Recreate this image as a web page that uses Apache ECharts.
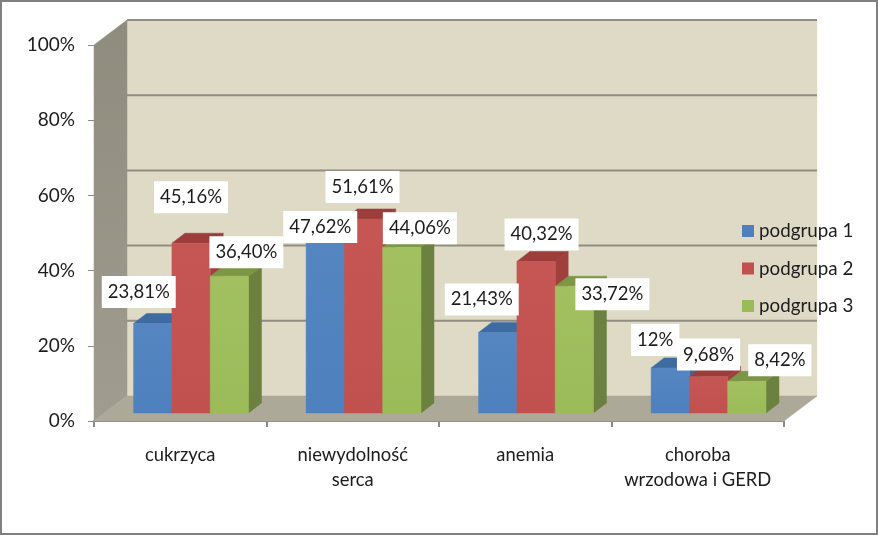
<!DOCTYPE html>
<html><head><meta charset="utf-8">
<style>html,body{margin:0;padding:0;background:#fff}#c{width:878px;height:535px}</style>
<script src="https://cdn.jsdelivr.net/npm/echarts@6/dist/echarts.min.js"></script>
</head><body><div id="c"></div>
<script>
const categories = ['cukrzyca', 'niewydolność\nserca', 'anemia', 'choroba\nwrzodowa i GERD'];
const seriesNames = ['podgrupa 1', 'podgrupa 2', 'podgrupa 3'];
const podgrupa1 = [23.81, 47.62, 21.43, 12];
const podgrupa2 = [45.16, 51.61, 40.32, 9.68];
const podgrupa3 = [36.40, 44.06, 33.72, 8.42];
const labels1 = ['23,81%', '47,62%', '21,43%', '12%'];
const labels2 = ['45,16%', '51,61%', '40,32%', '9,68%'];
const labels3 = ['36,40%', '44,06%', '33,72%', '8,42%'];
const yTicks = [20, 40, 60, 80, 100];

// layout / style only
const FONT = 'Lato, "Open Sans", sans-serif';
const WALL = {dx: 33, dy: -25};
const BAR = {w: 38.3, dx: 13, dy: -10, offX: 10.8, offY: -8};
const LABEL_OFFSETS = [
  [[-14, -31.5], [-5, -7], [-16, -33], [-15, -28]],
  [[0, -46], [-1, -32], [5.5, -27], [0, -22]],
  [[17, -24], [18, -19], [38, 8], [33, -21]]
];
const FACE = [
  {front: ['#5586C2', '#4D80BD'], top: '#3D6BA2', side: '#3F6896'},
  {front: ['#C55653', '#C0514E'], top: '#9C3D3B', side: '#A0403D'},
  {front: ['#A2C05F', '#9BBB59'], top: '#7C9646', side: '#6C8040'}
];
const values = [podgrupa1, podgrupa2, podgrupa3];
const texts = [labels1, labels2, labels3];

function poly(points, fill, stroke) {
  return {type: 'polygon', shape: {points}, style: {fill, stroke: stroke || fill, lineWidth: stroke ? 1 : 0.5}};
}

function renderWalls(params, api) {
  const cs = params.coordSys;
  const x0 = cs.x, x1 = cs.x + cs.width, yT = cs.y, yB = cs.y + cs.height;
  const d = WALL;
  const children = [
    poly([[x0 + d.dx, yT + d.dy], [x1 + d.dx, yT + d.dy], [x1 + d.dx, yB + d.dy], [x0 + d.dx, yB + d.dy]], '#DFDAC6'),
    poly([[x0, yT], [x0 + d.dx, yT + d.dy], [x0 + d.dx, yB + d.dy], [x0, yB]],
      new echarts.graphic.LinearGradient(0, 0, 0, 1, [{offset: 0, color: '#8F8C7E'}, {offset: 1, color: '#A09D90'}])),
    poly([[x0, yB], [x1, yB], [x1 + d.dx, yB + d.dy], [x0 + d.dx, yB + d.dy]], '#ADA998')
  ];
  yTicks.forEach(t => {
    const y = api.coord([0, t])[1] + d.dy;
    children.push({type: 'line', shape: {x1: x0 + d.dx, y1: y, x2: x1 + d.dx, y2: y},
      style: {stroke: '#908D82', lineWidth: 2}});
  });
  return {type: 'group', children};
}

function renderBar(params, api) {
  const s = params.seriesIndex - 1;
  const c = api.value(0), v = api.value(1);
  const cx = api.coord([c, 0])[0] + BAR.offX + (s - 1) * BAR.w;
  const base = api.coord([c, 0])[1] + BAR.offY;
  const top = api.coord([c, v])[1] + BAR.offY;
  const l = cx - BAR.w / 2, r = cx + BAR.w / 2;
  const f = FACE[s];
  return {type: 'group', children: [
    poly([[r, top], [r + BAR.dx, top + BAR.dy], [r + BAR.dx, base + BAR.dy], [r, base]], f.side),
    poly([[l, top], [l + BAR.dx, top + BAR.dy], [r + BAR.dx, top + BAR.dy], [r, top]], f.top),
    poly([[l, top], [r, top], [r, base], [l, base]],
      new echarts.graphic.LinearGradient(0, 0, 0, 1, [{offset: 0, color: f.front[0]}, {offset: 1, color: f.front[1]}]))
  ]};
}

function renderLabel(params, api) {
  const s = api.value(2), c = api.value(0), v = api.value(1);
  const cx = api.coord([c, 0])[0] + BAR.offX + (s - 1) * BAR.w;
  const top = api.coord([c, v])[1] + BAR.offY;
  const off = LABEL_OFFSETS[s][c];
  return {type: 'text', style: {
    text: texts[s][c], x: cx + off[0], y: top + off[1],
    textAlign: 'center', textVerticalAlign: 'middle',
    font: '18.5px ' + FONT, fill: '#1c1c1c',
    backgroundColor: '#fff', padding: [5, 6, 5, 6], lineHeight: 22
  }};
}

const barSeries = seriesNames.map((name, s) => ({
  type: 'custom', name, z: 3, clip: false, renderItem: renderBar,
  itemStyle: {color: FACE[s].front[1]},
  encode: {x: 0, y: 1},
  data: values[s].map((v, c) => [c, v])
}));

const labelData = [];
values.forEach((arr, s) => arr.forEach((v, c) => labelData.push([c, v, s])));

const chart = echarts.init(document.getElementById('c'), null, {renderer: 'canvas'});
chart.setOption({
  animation: false,
  backgroundColor: '#fff',
  grid: {left: 94, right: 94, top: 45, bottom: 114},
  legend: {
    data: seriesNames, orient: 'vertical', left: 742, top: 221, padding: 0,
    icon: 'rect', itemWidth: 12, itemHeight: 12, itemGap: 17.5, z: 6,
    textStyle: {fontFamily: FONT, fontSize: 18.8, color: '#1c1c1c', lineHeight: 20},
    selectedMode: false
  },
  xAxis: {
    type: 'category', data: categories, boundaryGap: true,
    axisLine: {show: true, lineStyle: {color: '#8A8A8A', width: 2}},
    axisTick: {show: true, length: 6, alignWithLabel: false, lineStyle: {color: '#8A8A8A', width: 2}},
    axisLabel: {fontFamily: FONT, fontSize: 18.4, color: '#1c1c1c', margin: 22, lineHeight: 25, interval: 0},
    splitLine: {show: false}
  },
  yAxis: {
    type: 'value', min: 0, max: 100, interval: 20,
    axisLine: {show: false},
    axisTick: {show: true, length: 6, lineStyle: {color: '#8A8A8A', width: 1}},
    axisLabel: {fontFamily: FONT, fontSize: 19, color: '#1c1c1c', margin: 19, formatter: '{value}%'},
    splitLine: {show: false}
  },
  graphic: [{type: 'rect', z: 100, silent: true,
    shape: {x: 1, y: 1, width: 876, height: 533},
    style: {fill: 'none', stroke: '#808080', lineWidth: 2}}],
  series: [
    {type: 'custom', name: 'tło', z: 1, clip: false, silent: true, renderItem: renderWalls,
      encode: {x: 0, y: 1}, data: [[0, 0]]},
    ...barSeries,
    {type: 'custom', name: 'etykiety', z: 4, clip: false, silent: true, renderItem: renderLabel,
      encode: {x: 0, y: 1}, data: labelData}
  ]
});
</script></body></html>
